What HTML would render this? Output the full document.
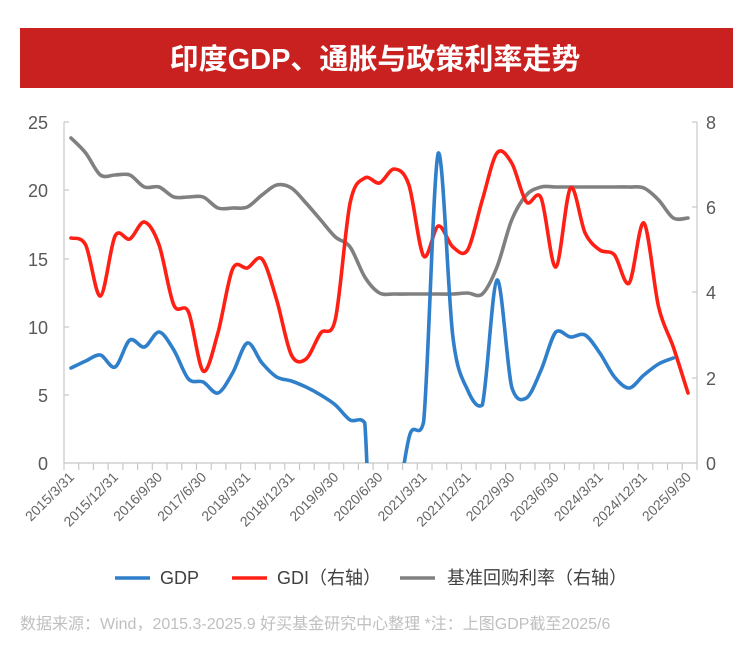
<!DOCTYPE html>
<html><head><meta charset="utf-8"><style>
html,body{margin:0;background:#fff;width:750px;height:652px;overflow:hidden;font-family:"Liberation Sans","Noto Sans CJK SC",sans-serif}
</style></head><body>
<svg width="750" height="652" xmlns="http://www.w3.org/2000/svg" style="position:absolute;left:0;top:0">
<rect x="20" y="28" width="713" height="60" fill="#c92020"/>
<text x="375" y="69" text-anchor="middle" fill="#fff" font-size="29" font-weight="bold" font-family="Liberation Sans,Noto Sans CJK SC,sans-serif">印度GDP、通胀与政策利率走势</text>
<g stroke="#c8c8c8" stroke-width="1.2" fill="none">
<line x1="64" y1="122" x2="64" y2="463"/>
<line x1="697" y1="122" x2="697" y2="463"/>
<line x1="64" y1="463" x2="697" y2="463"/>
<g id="lt"></g>
</g>
<g fill="#595959" font-size="18" font-family="Liberation Sans,sans-serif">
<text x="48" y="129" text-anchor="end">25</text>
<text x="48" y="197" text-anchor="end">20</text>
<text x="48" y="266" text-anchor="end">15</text>
<text x="48" y="334" text-anchor="end">10</text>
<text x="48" y="402" text-anchor="end">5</text>
<text x="48" y="470" text-anchor="end">0</text>
<text x="706" y="129">8</text>
<text x="706" y="214">6</text>
<text x="706" y="299">4</text>
<text x="706" y="385">2</text>
<text x="706" y="470">0</text>
</g>
<g id="xl" fill="#666" font-size="14" font-family="Liberation Sans,sans-serif"></g>
<defs><clipPath id="c"><rect x="60" y="110" width="640" height="353"/></clipPath></defs>
<g clip-path="url(#c)" fill="none" stroke-width="3.6" stroke-linejoin="round" stroke-linecap="round">
<path id="gray" stroke="#808080"/>
<path id="red" stroke="#ff2015"/>
<path id="blue" stroke="#2f7fca"/>
</g>
<g stroke-width="3.6">
<line x1="115" y1="578" x2="150" y2="578" stroke="#2f7fca"/>
<line x1="232" y1="578" x2="267" y2="578" stroke="#ff2015"/>
<line x1="400" y1="578" x2="435" y2="578" stroke="#808080"/>
</g>
<g fill="#404040" font-size="18" font-family="Liberation Sans,Noto Sans CJK SC,sans-serif">
<text x="160" y="584">GDP</text>
<text x="277" y="584">GDI（右轴）</text>
<text x="447" y="584">基准回购利率（右轴）</text>
</g>
<text x="20" y="629" fill="#bfbfbf" font-size="16" font-family="Liberation Sans,Noto Sans CJK SC,sans-serif">数据来源：Wind，2015.3-2025.9 好买基金研究中心整理 *注：上图GDP截至2025/6</text>
</svg>
<script>
var NS="http://www.w3.org/2000/svg";
function X(i){return 71+14.69*i;}
var blue=[368,361,355,367,340,347,332,350,379,382,393,373,343,363,377,381,387,395,405,420,423,789,553,438,422,153,337,390,405,280,387,398,370,332,337,335,353,377,388,375,364,358];
var red=[238,245,296,236,239,222,245,305,312,371,333,269,268,259,300,355,359,333,319,203,178,183,169,185,256,226,247,250,200,153,163,202,198,267,188,233,250,255,283,223,307,347,393];
var gray=[138,153,175,175,175,187,187,197,197,197,208,208,207,195,185,188,203,220,237,247,277,293,294,294,294,294,294,293,294,267,220,195,187,187,187,187,187,187,187,188,200,218,218];
function path(a,clamp){var p=a.map(function(y,i){return [X(i),y]});var d="M"+p[0][0]+","+p[0][1];var t=0.16;
for(var i=0;i<p.length-1;i++){var p0=p[i-1]||p[i],p1=p[i],p2=p[i+1],p3=p[i+2]||p2;
var c1x=p1[0]+(p2[0]-p0[0])*t,c1y=p1[1]+(p2[1]-p0[1])*t,c2x=p2[0]-(p3[0]-p1[0])*t,c2y=p2[1]-(p3[1]-p1[1])*t;
if(clamp){var lo=Math.min(p1[1],p2[1])-4,hi=Math.max(p1[1],p2[1])+4;c1y=Math.max(lo,Math.min(hi,c1y));c2y=Math.max(lo,Math.min(hi,c2y));}
d+=" C"+c1x.toFixed(1)+","+c1y.toFixed(1)+" "+c2x.toFixed(1)+","+c2y.toFixed(1)+" "+p2[0].toFixed(1)+","+p2[1];}
return d;}
document.getElementById("blue").setAttribute("d",path(blue,true));
document.getElementById("red").setAttribute("d",path(red,false));
document.getElementById("gray").setAttribute("d",path(gray,true));
var lt=document.getElementById("lt");
function ln(a,b,c,d){var l=document.createElementNS(NS,"line");l.setAttribute("x1",a);l.setAttribute("y1",b);l.setAttribute("x2",c);l.setAttribute("y2",d);lt.appendChild(l);}
[122,190,259,327,395].forEach(function(y){ln(64,y,69,y);});
[122,207,292,378].forEach(function(y){ln(692,y,697,y);});
for(var i=0;i<=43;i++){var x=64+14.72*i;if(x>698)break;ln(x,463,x,470);}
var labs=["2015/3/31","2015/12/31","2016/9/30","2017/6/30","2018/3/31","2018/12/31","2019/9/30","2020/6/30","2021/3/31","2021/12/31","2022/9/30","2023/6/30","2024/3/31","2024/12/31","2025/9/30"];
var xl=document.getElementById("xl");
labs.forEach(function(s,k){var x=X(3*k)+4,y=478;var t=document.createElementNS(NS,"text");t.setAttribute("x",x);t.setAttribute("y",y);t.setAttribute("text-anchor","end");t.setAttribute("transform","rotate(-45 "+x+" "+y+")");t.textContent=s;xl.appendChild(t);});
</script>
</body></html>
